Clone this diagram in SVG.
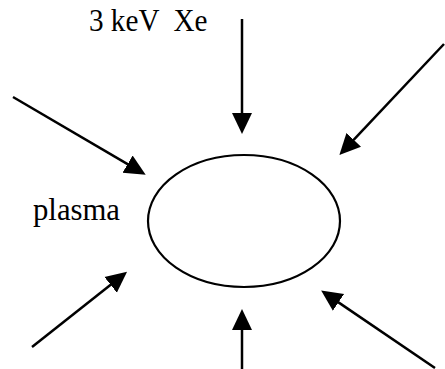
<svg xmlns="http://www.w3.org/2000/svg" width="445" height="369" viewBox="0 0 445 369">
  <style>
    .lbl { font-family: "Liberation Serif", "Times New Roman", serif; font-size: 31px; fill: #000; }
    .arr { stroke: #000; stroke-width: 2.5; fill: none; marker-end: url(#head); }
    .node { stroke: #000; stroke-width: 2.2; fill: #fff; }
  </style>
  <defs>
    <marker id="head" markerUnits="userSpaceOnUse" markerWidth="22" markerHeight="22" viewBox="0 -11 22 22" refX="0.5" refY="0" orient="auto">
      <path d="M0,-10 L21,0 L0,10 Z" fill="#000"/>
    </marker>
  </defs>
  <rect width="445" height="369" fill="#fff"/>
  <g id="plasma">
    <ellipse class="node" cx="244" cy="221" rx="96" ry="66"/>
    <text class="lbl" x="33" y="220" textLength="87" lengthAdjust="spacingAndGlyphs">plasma</text>
  </g>
  <g id="beam-label">
    <text class="lbl" x="89" y="31" xml:space="preserve" textLength="118.5" lengthAdjust="spacingAndGlyphs">3 keV  Xe</text>
  </g>
  <g id="connectors">
    <line class="arr" x1="242" y1="19" x2="242" y2="113.5"/>
    <line class="arr" x1="13" y1="97" x2="128" y2="164.4"/>
    <line class="arr" x1="444" y1="44" x2="353.4" y2="140.2"/>
    <line class="arr" x1="32" y1="347" x2="111" y2="284.5"/>
    <line class="arr" x1="435" y1="368" x2="338.1" y2="302.1"/>
    <line class="arr" x1="242" y1="369" x2="242" y2="329.5"/>
  </g>
</svg>
